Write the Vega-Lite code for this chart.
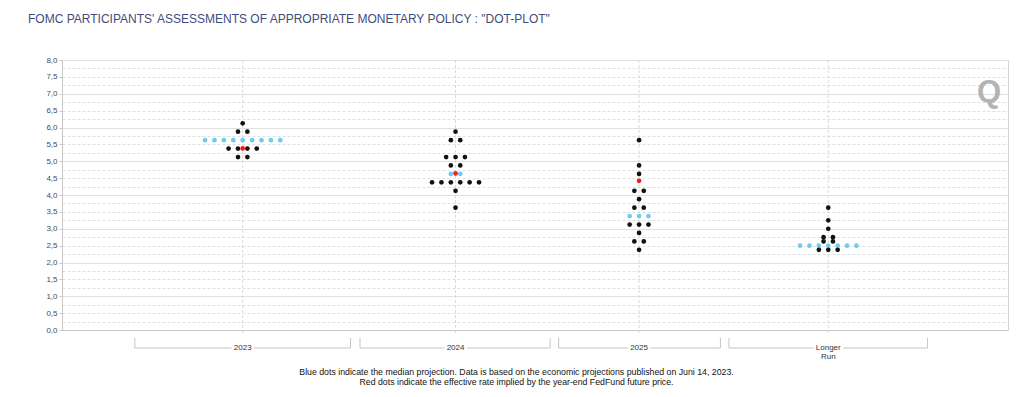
{
  "$schema": "https://vega.github.io/schema/vega-lite/v6.json",
  "width": 946,
  "height": 270,
  "autosize": {"type": "none"},
  "padding": {"left": 62, "top": 60, "right": 16, "bottom": 67},
  "background": "white",
  "config": {"view": {"stroke": "#d4d4d4"}, "font": "Liberation Sans"},
  "title": {
    "text": "FOMC PARTICIPANTS' ASSESSMENTS OF APPROPRIATE MONETARY POLICY : \"DOT-PLOT\"",
    "anchor": "start",
    "frame": "group",
    "dx": -34,
    "offset": 21,
    "baseline": "alphabetic",
    "fontSize": 12,
    "fontWeight": "normal",
    "color": "#3f4c7d",
    "font": "Liberation Sans"
  },
  "resolve": {"axis": {"x": "independent", "y": "independent"}},
  "datasets": {
    "periods": [
      {"period": "2023", "label": "2023", "center": 19.1, "from": 7.7, "to": 30.5},
      {"period": "2024", "label": "2024", "center": 41.6, "from": 31.5, "to": 51.6},
      {"period": "2025", "label": "2025", "center": 61.0, "from": 52.5, "to": 69.6},
      {"period": "Longer Run", "label": "Longer\nRun", "center": 81.0, "from": 70.5, "to": 91.5}
    ],
    "dots": [
      {"period": "2023", "rate": 6.125, "kind": "participant"},
      {"period": "2023", "rate": 5.875, "kind": "participant"},
      {"period": "2023", "rate": 5.875, "kind": "participant"},
      {"period": "2023", "rate": 5.625, "kind": "median"},
      {"period": "2023", "rate": 5.625, "kind": "median"},
      {"period": "2023", "rate": 5.625, "kind": "median"},
      {"period": "2023", "rate": 5.625, "kind": "median"},
      {"period": "2023", "rate": 5.625, "kind": "median"},
      {"period": "2023", "rate": 5.625, "kind": "median"},
      {"period": "2023", "rate": 5.625, "kind": "median"},
      {"period": "2023", "rate": 5.625, "kind": "median"},
      {"period": "2023", "rate": 5.625, "kind": "median"},
      {"period": "2023", "rate": 5.375, "kind": "participant"},
      {"period": "2023", "rate": 5.375, "kind": "participant"},
      {"period": "2023", "rate": 5.375, "kind": "participant"},
      {"period": "2023", "rate": 5.375, "kind": "participant"},
      {"period": "2023", "rate": 5.125, "kind": "participant"},
      {"period": "2023", "rate": 5.125, "kind": "participant"},
      {"period": "2023", "rate": 5.38, "kind": "futures"},

      {"period": "2024", "rate": 5.875, "kind": "participant"},
      {"period": "2024", "rate": 5.625, "kind": "participant"},
      {"period": "2024", "rate": 5.625, "kind": "participant"},
      {"period": "2024", "rate": 5.125, "kind": "participant"},
      {"period": "2024", "rate": 5.125, "kind": "participant"},
      {"period": "2024", "rate": 5.125, "kind": "participant"},
      {"period": "2024", "rate": 4.875, "kind": "participant"},
      {"period": "2024", "rate": 4.875, "kind": "participant"},
      {"period": "2024", "rate": 4.625, "kind": "median"},
      {"period": "2024", "rate": 4.625, "kind": "median"},
      {"period": "2024", "rate": 4.375, "kind": "participant"},
      {"period": "2024", "rate": 4.375, "kind": "participant"},
      {"period": "2024", "rate": 4.375, "kind": "participant"},
      {"period": "2024", "rate": 4.375, "kind": "participant"},
      {"period": "2024", "rate": 4.375, "kind": "participant"},
      {"period": "2024", "rate": 4.375, "kind": "participant"},
      {"period": "2024", "rate": 4.125, "kind": "participant"},
      {"period": "2024", "rate": 3.625, "kind": "participant"},
      {"period": "2024", "rate": 4.64, "kind": "futures"},

      {"period": "2025", "rate": 5.625, "kind": "participant"},
      {"period": "2025", "rate": 4.875, "kind": "participant"},
      {"period": "2025", "rate": 4.625, "kind": "participant"},
      {"period": "2025", "rate": 4.125, "kind": "participant"},
      {"period": "2025", "rate": 4.125, "kind": "participant"},
      {"period": "2025", "rate": 3.875, "kind": "participant"},
      {"period": "2025", "rate": 3.625, "kind": "participant"},
      {"period": "2025", "rate": 3.625, "kind": "participant"},
      {"period": "2025", "rate": 3.375, "kind": "median"},
      {"period": "2025", "rate": 3.375, "kind": "median"},
      {"period": "2025", "rate": 3.375, "kind": "median"},
      {"period": "2025", "rate": 3.125, "kind": "participant"},
      {"period": "2025", "rate": 3.125, "kind": "participant"},
      {"period": "2025", "rate": 3.125, "kind": "participant"},
      {"period": "2025", "rate": 2.875, "kind": "participant"},
      {"period": "2025", "rate": 2.625, "kind": "participant"},
      {"period": "2025", "rate": 2.625, "kind": "participant"},
      {"period": "2025", "rate": 2.375, "kind": "participant"},
      {"period": "2025", "rate": 4.42, "kind": "futures"},

      {"period": "Longer Run", "rate": 3.625, "kind": "participant"},
      {"period": "Longer Run", "rate": 3.25, "kind": "participant"},
      {"period": "Longer Run", "rate": 3.0, "kind": "participant"},
      {"period": "Longer Run", "rate": 2.75, "kind": "participant"},
      {"period": "Longer Run", "rate": 2.75, "kind": "participant"},
      {"period": "Longer Run", "rate": 2.625, "kind": "participant"},
      {"period": "Longer Run", "rate": 2.625, "kind": "participant"},
      {"period": "Longer Run", "rate": 2.5, "kind": "median"},
      {"period": "Longer Run", "rate": 2.5, "kind": "median"},
      {"period": "Longer Run", "rate": 2.5, "kind": "median"},
      {"period": "Longer Run", "rate": 2.5, "kind": "median"},
      {"period": "Longer Run", "rate": 2.5, "kind": "median"},
      {"period": "Longer Run", "rate": 2.5, "kind": "median"},
      {"period": "Longer Run", "rate": 2.5, "kind": "median"},
      {"period": "Longer Run", "rate": 2.375, "kind": "participant"},
      {"period": "Longer Run", "rate": 2.375, "kind": "participant"},
      {"period": "Longer Run", "rate": 2.375, "kind": "participant"}
    ]
  },
  "layer": [
    {
      "data": {"name": "periods"},
      "mark": {"type": "rule", "color": "#d9d9d9", "strokeDash": [3, 2], "strokeWidth": 1},
      "encoding": {
        "x": {
          "field": "center", "type": "quantitative",
          "scale": {"domain": [0, 100], "nice": false, "zero": false},
          "axis": {
            "values": [], "ticks": false, "labels": false, "grid": false,
            "domainColor": "#c8c8c8",
            "title": [
              "Blue dots indicate the median projection. Data is based on the economic projections published on Juni 14, 2023.",
              "Red dots indicate the effective rate implied by the year-end FedFund future price."
            ],
            "titleFont": "Liberation Sans",
            "titleFontSize": 8.75,
            "titleFontWeight": "normal",
            "titleColor": "#111111",
            "titlePadding": 37,
            "titleX": 454,
            "titleLineHeight": 10
          }
        },
        "y": {
          "datum": 8, "type": "quantitative",
          "scale": {"domain": [0, 8], "nice": false},
          "axis": {
            "title": null,
            "values": [0, 0.25, 0.5, 0.75, 1, 1.25, 1.5, 1.75, 2, 2.25, 2.5, 2.75, 3, 3.25, 3.5, 3.75, 4, 4.25, 4.5, 4.75, 5, 5.25, 5.5, 5.75, 6, 6.25, 6.5, 6.75, 7, 7.25, 7.5, 7.75, 8],
            "labelExpr": "datum.value % 0.5 === 0 ? replace(format(datum.value, '.1f'), '.', ',') : ''",
            "labelOverlap": false,
            "labelFont": "Liberation Sans",
            "labelFontSize": 8,
            "labelColor": "#4a4a4a",
            "labelPadding": 2,
            "grid": true,
            "gridColor": "#e0e0e0",
            "gridDash": {"condition": {"test": "datum.value % 1 === 0", "value": []}, "value": [3, 2]},
            "tickSize": 3,
            "tickColor": "#c8c8c8",
            "tickOpacity": {"condition": {"test": "datum.value % 0.5 === 0", "value": 1}, "value": 0},
            "domainColor": "#c8c8c8"
          }
        },
        "y2": {"datum": -0.1}
      }
    },
    {
      "data": {"name": "dots"},
      "transform": [
        {"lookup": "period", "from": {"data": {"name": "periods"}, "key": "period", "fields": ["center"]}},
        {"window": [{"op": "row_number", "as": "idx"}], "groupby": ["period", "rate", "kind"]},
        {"joinaggregate": [{"op": "count", "as": "cnt"}], "groupby": ["period", "rate", "kind"]}
      ],
      "encoding": {
        "x": {"field": "center", "type": "quantitative", "scale": {"domain": [0, 100], "nice": false, "zero": false}, "axis": null},
        "y": {"field": "rate", "type": "quantitative", "scale": {"domain": [0, 8], "nice": false}, "axis": null},
        "color": {
          "field": "kind", "type": "nominal",
          "scale": {"domain": ["median", "participant", "futures"], "range": ["#6fcbef", "#111111", "#f21c1c"]},
          "legend": null
        }
      },
      "layer": [
        {
          "transform": [{"filter": "datum.kind === 'median'"}],
          "mark": {"type": "point", "filled": true, "opacity": 1, "size": 22, "strokeWidth": 0, "xOffset": {"expr": "(datum.idx - (datum.cnt + 1) / 2) * 9.4"}}
        },
        {
          "transform": [{"filter": "datum.kind === 'participant'"}],
          "mark": {"type": "point", "filled": true, "opacity": 1, "size": 22, "strokeWidth": 0, "xOffset": {"expr": "(datum.idx - (datum.cnt + 1) / 2) * 9.4"}}
        },
        {
          "transform": [{"filter": "datum.kind === 'futures'"}],
          "mark": {"type": "point", "filled": true, "opacity": 1, "size": 22, "strokeWidth": 0, "xOffset": {"expr": "(datum.idx - (datum.cnt + 1) / 2) * 9.4"}}
        }
      ]
    },
    {
      "data": {"name": "periods"},
      "mark": {"type": "rule", "color": "#c4c4c4", "strokeWidth": 1},
      "encoding": {
        "x": {"field": "from", "type": "quantitative", "scale": {"domain": [0, 100], "nice": false, "zero": false}, "axis": null},
        "x2": {"field": "to"},
        "y": {"datum": -0.533, "type": "quantitative", "scale": {"domain": [0, 8], "nice": false}, "axis": null}
      }
    },
    {
      "data": {"name": "periods"},
      "mark": {"type": "rule", "color": "#c4c4c4", "strokeWidth": 1},
      "encoding": {
        "x": {"field": "from", "type": "quantitative", "scale": {"domain": [0, 100], "nice": false, "zero": false}, "axis": null},
        "y": {"datum": -0.237, "type": "quantitative", "scale": {"domain": [0, 8], "nice": false}, "axis": null},
        "y2": {"datum": -0.533}
      }
    },
    {
      "data": {"name": "periods"},
      "mark": {"type": "rule", "color": "#c4c4c4", "strokeWidth": 1},
      "encoding": {
        "x": {"field": "to", "type": "quantitative", "scale": {"domain": [0, 100], "nice": false, "zero": false}, "axis": null},
        "y": {"datum": -0.237, "type": "quantitative", "scale": {"domain": [0, 8], "nice": false}, "axis": null},
        "y2": {"datum": -0.533}
      }
    },
    {
      "data": {"name": "periods"},
      "mark": {"type": "text", "font": "Liberation Sans", "fontSize": 8, "fill": "white", "stroke": "white", "strokeWidth": 5, "lineBreak": "\n", "lineHeight": 9, "baseline": "middle", "align": "center"},
      "encoding": {
        "x": {"field": "center", "type": "quantitative", "scale": {"domain": [0, 100], "nice": false, "zero": false}, "axis": null},
        "y": {"datum": -0.533, "type": "quantitative", "scale": {"domain": [0, 8], "nice": false}, "axis": null},
        "text": {"field": "label"}
      }
    },
    {
      "data": {"name": "periods"},
      "mark": {"type": "text", "font": "Liberation Sans", "fontSize": 8, "fill": "#333333", "lineBreak": "\n", "lineHeight": 9, "baseline": "middle", "align": "center"},
      "encoding": {
        "x": {"field": "center", "type": "quantitative", "scale": {"domain": [0, 100], "nice": false, "zero": false}, "axis": null},
        "y": {"datum": -0.533, "type": "quantitative", "scale": {"domain": [0, 8], "nice": false}, "axis": null},
        "text": {"field": "label"}
      }
    },
    {
      "data": {"values": [{"logo": "Q"}]},
      "mark": {"type": "text", "font": "Liberation Sans", "fontSize": 31, "fontWeight": "bold", "fill": "#b3b3b3", "baseline": "middle", "align": "center"},
      "encoding": {
        "x": {"datum": 98.0, "type": "quantitative", "scale": {"domain": [0, 100], "nice": false, "zero": false}, "axis": null},
        "y": {"datum": 7.02, "type": "quantitative", "scale": {"domain": [0, 8], "nice": false}, "axis": null},
        "text": {"field": "logo"}
      }
    }
  ]
}
